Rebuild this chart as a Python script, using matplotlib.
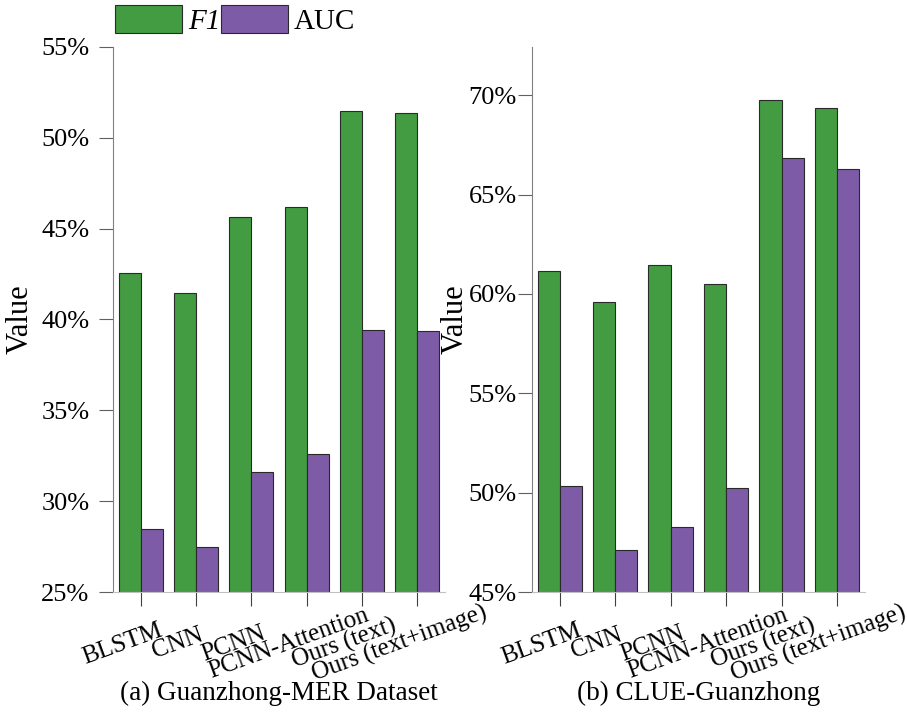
import numpy as np
import matplotlib
matplotlib.use("Agg")
import matplotlib.pyplot as plt
from matplotlib.ticker import FuncFormatter, MultipleLocator
from matplotlib.transforms import ScaledTranslation

plt.rcParams['font.family'] = ['Liberation Serif', 'DejaVu Serif']

models = ['BLSTM', 'CNN', 'PCNN', 'PCNN-Attention', 'Ours (text)', 'Ours (text+image)']

# Guanzhong-MER results (%)
mer_f1 = [42.57, 41.45, 45.65, 46.2, 51.45, 51.36]
mer_auc = [28.46, 27.5, 31.63, 32.62, 39.44, 39.39]

# CLUE-Guanzhong results (%)
clue_f1 = [61.16, 59.6, 61.44, 60.49, 69.75, 69.36]
clue_auc = [50.32, 47.13, 48.29, 50.22, 66.86, 66.3]

green = '#439b42'
purple = '#7d5ba6'

fig = plt.figure(figsize=(9.07, 7.22), dpi=100)
ax1 = fig.add_axes([0.1246, 0.18, 0.366, 0.755])
ax2 = fig.add_axes([0.5865, 0.18, 0.367, 0.755])


def draw_panel(ax, f1, auc, ylim, caption, ypad, ylab_x):
    x = np.arange(len(models))
    w = 0.4
    ax.bar(x - w / 2, f1, w, color=green, edgecolor='#2a2a2a',
           linewidth=0.8, label='F1')
    ax.bar(x + w / 2, auc, w, color=purple, edgecolor='#2a2a2a',
           linewidth=0.8, label='AUC')
    ax.set_ylim(*ylim)
    ax.set_xlim(-0.5, len(models) - 0.5)
    ax.yaxis.set_major_locator(MultipleLocator(5))
    ax.yaxis.set_major_formatter(FuncFormatter(lambda v, p: '%d%%' % round(v)))

    for s in ['top', 'right']:
        ax.spines[s].set_visible(False)
    ax.spines['left'].set_color('#808080')
    ax.spines['bottom'].set_color('#c0c0c0')
    ax.tick_params(axis='y', direction='out', length=10, color='#606060',
                   labelsize=19, pad=ypad)
    ax.tick_params(axis='x', direction='out', length=10, color='#404040',
                   labelsize=18)

    ax.set_xticks(x)
    ax.set_xticklabels(models, rotation=20, rotation_mode='anchor',
                       ha='center', va='center')
    shift = ScaledTranslation(-0.18, -0.33, fig.dpi_scale_trans)
    for lbl in ax.get_xticklabels():
        lbl.set_transform(lbl.get_transform() + shift)

    ax.set_ylabel('Value', fontsize=22)
    ax.yaxis.set_label_coords(ylab_x, 0.5)
    pos = ax.get_position()
    fig.text(pos.x0 + pos.width / 2, 1 - 693 / 722, caption,
             ha='center', va='center', fontsize=19.5)


draw_panel(ax1, mer_f1, mer_auc, (25, 55), '(a) Guanzhong-MER Dataset', 7, -0.235)
draw_panel(ax2, clue_f1, clue_auc, (45, 72.43), '(b) CLUE-Guanzhong', 1, -0.186)

handles, labels = ax1.get_legend_handles_labels()
leg = fig.legend(handles, labels, loc='upper left', bbox_to_anchor=(0.124, 0.997),
                 ncol=2, frameon=False, fontsize=21, handlelength=2.3,
                 handleheight=1.1, handletextpad=0.2, columnspacing=0.0,
                 borderpad=0.1, borderaxespad=0)
leg.get_texts()[0].set_fontstyle('italic')

fig.savefig('out.png', dpi=100)
